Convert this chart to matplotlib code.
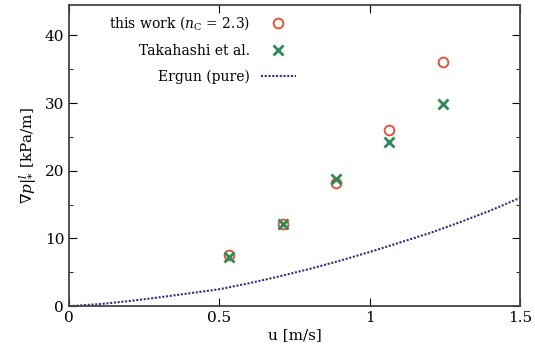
import numpy as np
import matplotlib.pyplot as plt

plt.rcParams['font.family'] = 'DejaVu Serif'
plt.rcParams['mathtext.fontset'] = 'dejavuserif'

u_pts = [0.533, 0.713, 0.887, 1.065, 1.245]
this_work = [7.5, 12.2, 18.2, 26.0, 36.1]
takahashi = [7.2, 12.2, 18.8, 24.3, 29.8]

u_ergun = [0.0, 0.1, 0.2, 0.3, 0.4, 0.5, 0.6, 0.7, 0.8, 0.9, 1.0, 1.1, 1.2, 1.3, 1.4, 1.5]
dp_ergun = [0.0, 0.3, 0.75, 1.3, 1.9, 2.5, 3.4, 4.4, 5.5, 6.7, 8.0, 9.4, 10.8, 12.4, 14.1, 16.0]

fig = plt.figure(figsize=(5.35, 3.56), dpi=100)
ax = fig.add_axes([0.129, 0.14, 0.843, 0.846])

ax.plot(u_pts, this_work, 'o', ms=7, mfc='none', mec='#e0553c', mew=1.4,
        label=r'this work ($n_{\rm C}$ = 2.3)')
ax.plot(u_pts, takahashi, 'x', ms=7.5, color='#2e8b57', mew=2.0,
        label='Takahashi et al.')
ax.plot(u_ergun, dp_ergun, linestyle=(0, (1, 0.8)), color='#30307a', lw=1.5,
        label='Ergun (pure)')

ax.set_xlim(0, 1.5)
ax.set_ylim(0, 44.5)
ax.set_xticks([0, 0.5, 1, 1.5])
ax.set_xticklabels(['0', '0.5', '1', '1.5'])
ax.set_yticks([0, 10, 20, 30, 40])
ax.set_yticks([5, 15, 25, 35], minor=True)
ax.tick_params(which='both', direction='in', top=True, right=True, labelsize=11)
ax.tick_params(which='major', length=6)
ax.tick_params(which='minor', length=3)
for s in ax.spines.values():
    s.set_linewidth(1.3)
    s.set_color('#444444')

ax.set_xlabel('u [m/s]', fontsize=11, labelpad=2)
ax.set_ylabel(r'$\nabla p|^{l}_{*}$ [kPa/m]', fontsize=11, labelpad=4)

ax.legend(loc='upper right', bbox_to_anchor=(0.53, 1.01), frameon=False,
          markerfirst=False, fontsize=10, labelspacing=0.85, handlelength=2.5)

plt.savefig('out.png', dpi=100)
